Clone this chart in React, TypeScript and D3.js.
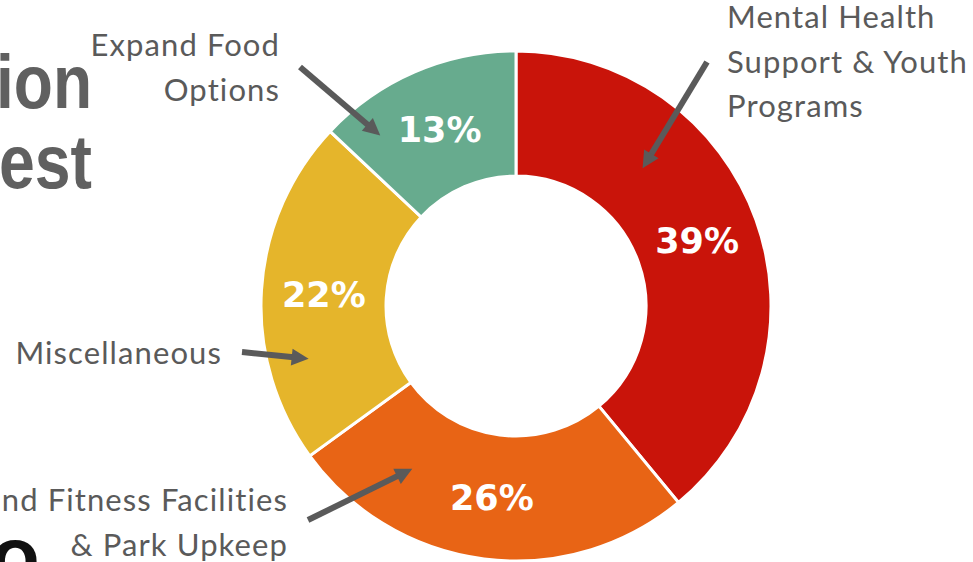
import React from "react";
import * as d3 from "d3";

// ---- data ----
const categories = [
  "Mental Health Support & Youth Programs",
  "Sports and Fitness Facilities & Park Upkeep",
  "Miscellaneous",
  "Expand Food Options",
];
const shares = [39, 26, 22, 13];
const sliceColors = ["#C9140A", "#E86415", "#E5B52B", "#67AB8E"];
const labelLines = [
  ["Mental Health", "Support & Youth", "Programs"],
  ["and Fitness Facilities", "& Park Upkeep"],
  ["Miscellaneous"],
  ["Expand Food", "Options"],
];
const titleFragments = ["ion", "est"];

const W = 973;
const H = 562;

export default function App() {
  const cx = 516;
  const cy = 306;
  const outerR = 255;
  const innerR = 130;

  const pie = d3
    .pie<number>()
    .sort(null)
    .value((d) => d)
    .startAngle(0)
    .endAngle(2 * Math.PI);
  const arcs = pie(shares);
  const arcGen = d3
    .arc<d3.PieArcDatum<number>>()
    .innerRadius(innerR)
    .outerRadius(outerR);

  const gray = "#5A5A5A";
  const labelFont = "Lato, 'Open Sans', sans-serif";

  // annotation layout: text anchor + arrow (polar tip relative to chart centre)
  const annot = [
    { tx: 727, ty: 28, anchor: "start", tail: [707, 62], tipA: 42.6, tipR: 187 },
    { tx: 288, ty: 511, anchor: "end", tail: [308, 520], tipA: 212.5, tipR: 193 },
    { tx: 222, ty: 364, anchor: "end", tail: [242, 352], tipA: 255.7, tipR: 214 },
    { tx: 280, ty: 56, anchor: "end", tail: [300, 67], tipA: 321.5, tipR: 218 },
  ];
  const lineH = 44.5;

  const arrow = (x1: number, y1: number, x2: number, y2: number, key: string) => {
    const ang = Math.atan2(y2 - y1, x2 - x1);
    const headL = 17;
    const headW = 8.5;
    const bx = x2 - headL * Math.cos(ang);
    const by = y2 - headL * Math.sin(ang);
    const px = -Math.sin(ang);
    const py = Math.cos(ang);
    const pts = [
      [x2, y2],
      [bx + px * headW, by + py * headW],
      [bx - px * headW, by - py * headW],
    ];
    return (
      <g key={key}>
        <line
          x1={x1}
          y1={y1}
          x2={bx + 2 * Math.cos(ang)}
          y2={by + 2 * Math.sin(ang)}
          stroke={gray}
          strokeWidth={6}
        />
        <polygon points={pts.map((p) => p.join(",")).join(" ")} fill={gray} />
      </g>
    );
  };

  return (
    <svg
      width={W}
      height={H}
      viewBox={`0 0 ${W} ${H}`}
      style={{ position: "absolute", left: 0, top: 0, background: "#fff" }}
    >
      <rect width={W} height={H} fill="#fff" />
      {/* partial title fragments */}
      <text
        x={92}
        y={108}
        textAnchor="end"
        fontFamily="'Liberation Sans', Arial, sans-serif"
        fontWeight="bold"
        fontSize={76}
        textLength={96}
        lengthAdjust="spacingAndGlyphs"
        fill="#606060"
      >
        {titleFragments[0]}
      </text>
      <text
        x={92}
        y={188}
        textAnchor="end"
        fontFamily="'Liberation Sans', Arial, sans-serif"
        fontWeight="bold"
        fontSize={76}
        textLength={93}
        lengthAdjust="spacingAndGlyphs"
        fill="#606060"
      >
        {titleFragments[1]}
      </text>
      <text
        x={-9}
        y={583}
        fontFamily="'DejaVu Sans', sans-serif"
        fontWeight="bold"
        fontSize={57}
        fill="#111"
      >
        O
      </text>

      <g transform={`translate(${cx},${cy})`}>
        {arcs.map((a, i) => (
          <path
            key={categories[i]}
            d={arcGen(a) || ""}
            fill={sliceColors[i]}
            stroke="#fff"
            strokeWidth={3}
          />
        ))}
        {arcs.map((a, i) => {
          const [x, y] = arcGen.centroid(a);
          return (
            <text
              key={"p" + i}
              x={x}
              y={y}
              dy="0.36em"
              textAnchor="middle"
              fontFamily="'DejaVu Sans', sans-serif"
              fontWeight="bold"
              fontSize={35}
              fill="#fff"
            >
              {shares[i]}%
            </text>
          );
        })}
      </g>

      {annot.map((an, i) => {
        const t = (an.tipA * Math.PI) / 180;
        const tipX = cx + an.tipR * Math.sin(t);
        const tipY = cy - an.tipR * Math.cos(t);
        return (
          <g key={"a" + i}>
            <text
              x={an.tx}
              y={an.ty}
              textAnchor={an.anchor as any}
              fontFamily={labelFont}
              fontSize={31}
              letterSpacing={1.1}
              fill={gray}
            >
              {labelLines[i].map((l, j) => (
                <tspan key={j} x={an.tx} y={an.ty + j * lineH}>
                  {l}
                </tspan>
              ))}
            </text>
            {arrow(an.tail[0], an.tail[1], tipX, tipY, "ar" + i)}
          </g>
        );
      })}
    </svg>
  );
}
